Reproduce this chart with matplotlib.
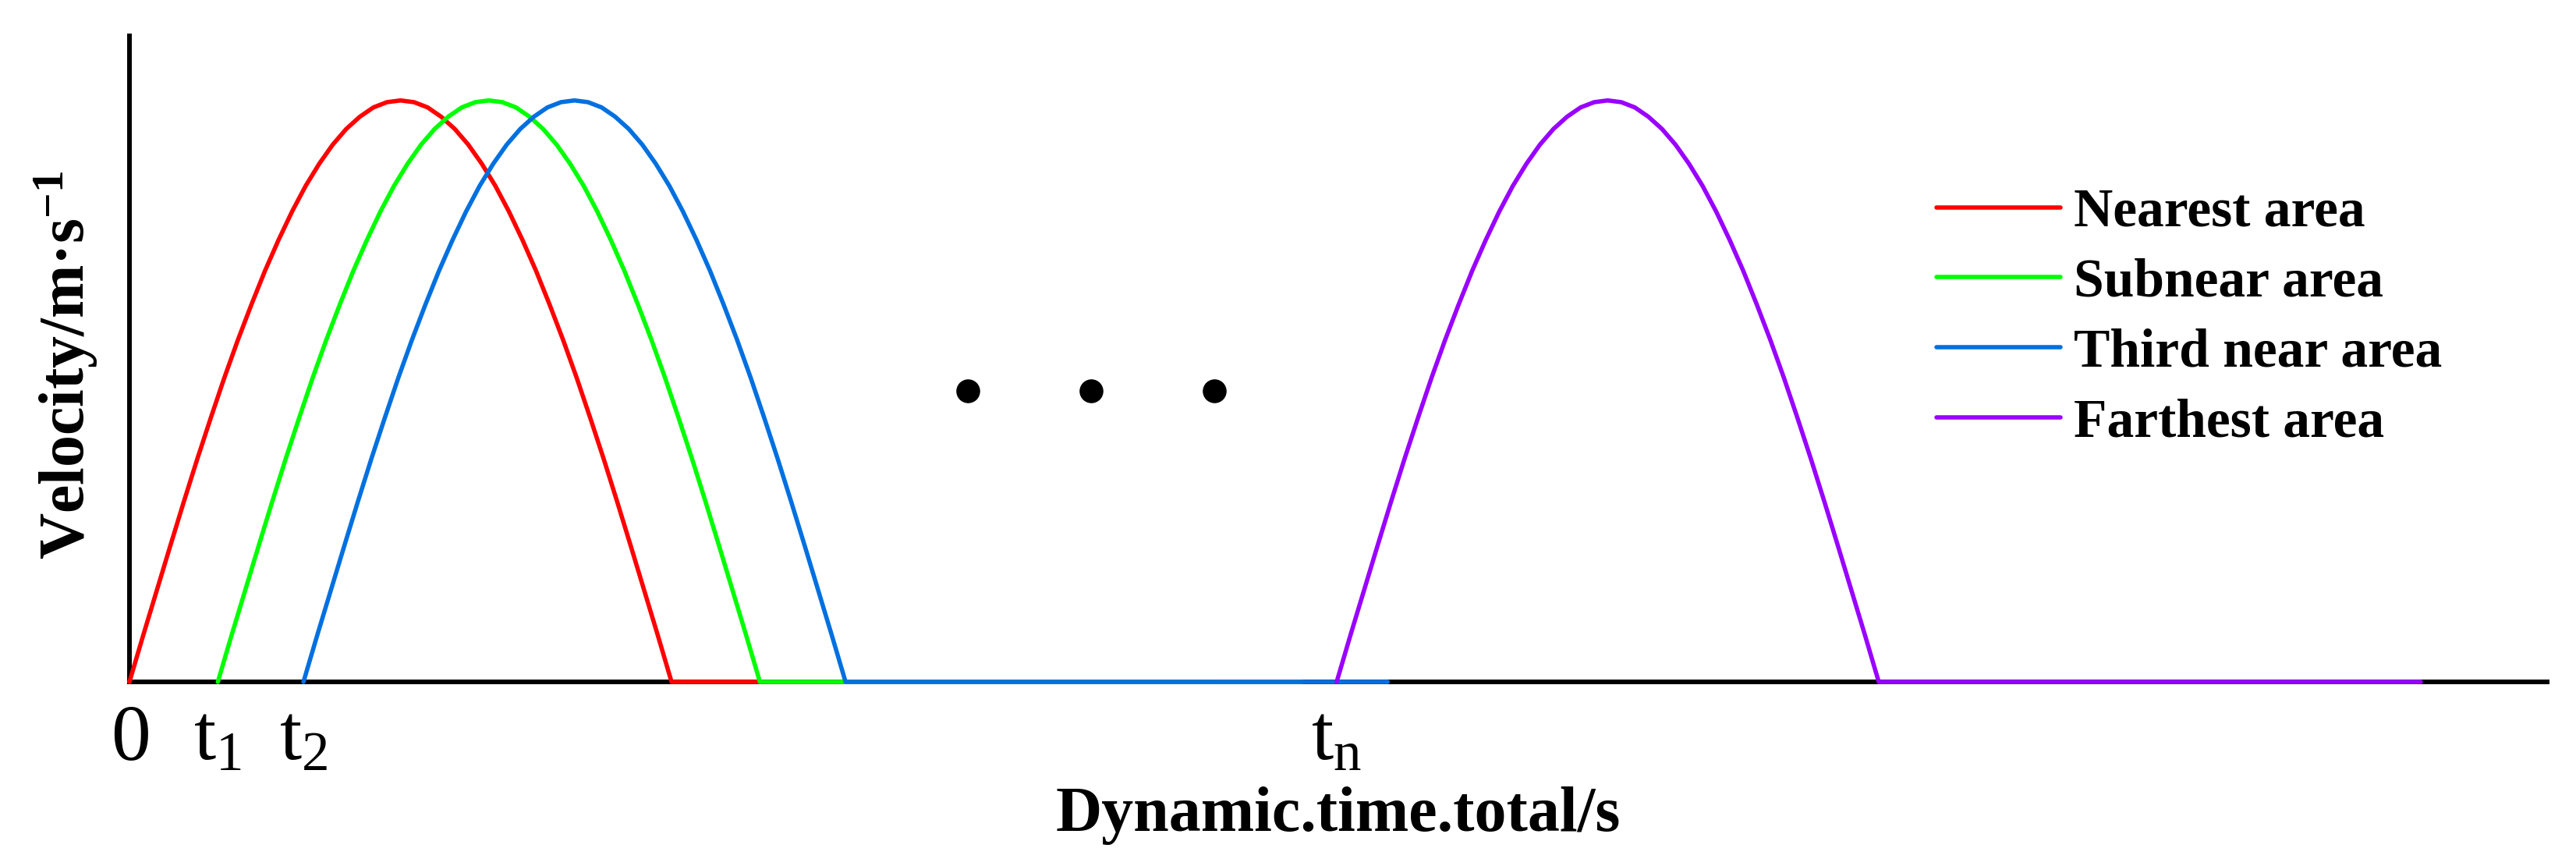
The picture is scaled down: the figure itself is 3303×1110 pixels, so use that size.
import matplotlib
matplotlib.use('Agg')
import matplotlib.pyplot as plt

plt.rcParams['font.family'] = ['Liberation Serif', 'DejaVu Serif']
plt.rcParams['mathtext.fontset'] = 'custom'
plt.rcParams['mathtext.rm'] = 'Liberation Serif'
plt.rcParams['mathtext.it'] = 'Liberation Serif:italic'
plt.rcParams['mathtext.bf'] = 'Liberation Serif:bold'

# ---- data ----
series_labels = ['Nearest area', 'Subnear area', 'Third near area', 'Farthest area']
series_colors = ['#FF0000', '#00FF00', '#0070E0', '#9900FF']
start_times = [0.0, 1.63, 3.21, 22.27]
pulse_time = [0.0, 0.25, 0.5, 0.75, 1.0, 1.25, 1.5, 1.75, 2.0, 2.25,
              2.5, 2.75, 3.0, 3.25, 3.5, 3.75, 4.0, 4.25, 4.5, 4.75,
              5.0, 5.25, 5.5, 5.75, 6.0, 6.25, 6.5, 6.75, 7.0, 7.25,
              7.5, 7.75, 8.0, 8.25, 8.5, 8.75, 9.0, 9.25, 9.5, 9.75, 10.0]
pulse_velocity = [0.0, 0.079, 0.156, 0.233, 0.309, 0.383, 0.454, 0.523, 0.588, 0.649,
                  0.707, 0.760, 0.809, 0.853, 0.891, 0.924, 0.951, 0.972, 0.988, 0.997,
                  1.0, 0.997, 0.988, 0.972, 0.951, 0.924, 0.891, 0.853, 0.809, 0.760,
                  0.707, 0.649, 0.588, 0.523, 0.454, 0.383, 0.309, 0.233, 0.156, 0.079, 0.0]
rest_duration = 10.0
dot_times = [15.47, 17.74, 20.01]
dot_velocity = [0.5, 0.5, 0.5]
tick_positions = [0.0, 1.63, 3.21, 22.27]
tick_labels = [r'$\mathrm{0}$', r'$\mathrm{t_1}$', r'$\mathrm{t_2}$', r'$\mathrm{t_n}$']
x_max = 44.6
y_max = 1.111

W, H = 3303, 1110
fig = plt.figure(figsize=(W / 100, H / 100), dpi=100)
ax = fig.add_axes([166 / W, 1 - 874 / H, 3100 / W, 828 / H])

for lab, col, s in zip(series_labels, series_colors, start_times):
    xs = [s + t for t in pulse_time] + [s + pulse_time[-1] + rest_duration]
    ys = list(pulse_velocity) + [0.0]
    ax.plot(xs, ys, color=col, lw=4.0, label=lab, clip_on=False, zorder=3,
            solid_capstyle='round', solid_joinstyle='round')

ax.scatter(dot_times, dot_velocity, s=484, color='black', linewidths=0, zorder=3)

ax.set_xlim(0, x_max)
ax.set_ylim(0, y_max)
for sp in ['top', 'right']:
    ax.spines[sp].set_visible(False)
for sp in ['left', 'bottom']:
    ax.spines[sp].set_linewidth(4.3)
    ax.spines[sp].set_zorder(2.5)

ax.set_xticks(tick_positions, tick_labels)
ax.set_yticks([])
ax.tick_params(axis='x', length=0, pad=72, labelsize=73)
plt.setp(ax.get_xticklabels(), va='baseline')

ax.set_xlabel('Dynamic.time.total/s', fontsize=59, fontweight='bold')
ax.xaxis.label.set_va('baseline')
ax.xaxis.set_label_coords(0.5, -191 / 828)

ax.set_ylabel('Velocity/m\u00b7s$^{\\mathbf{-1}}$', fontsize=59, fontweight='bold')
ax.yaxis.label.set_va('baseline')
ax.yaxis.set_label_coords(-58 / 3100, 0.490)

ax.legend(loc='upper left', bbox_to_anchor=(2483 / W, 1 - 241 / H),
          bbox_transform=fig.transFigure, frameon=False,
          prop={'weight': 'bold', 'size': 50}, handlelength=2.29,
          handletextpad=0.25, labelspacing=0.37, borderpad=0, borderaxespad=0)

fig.savefig('out.png', dpi=100)
